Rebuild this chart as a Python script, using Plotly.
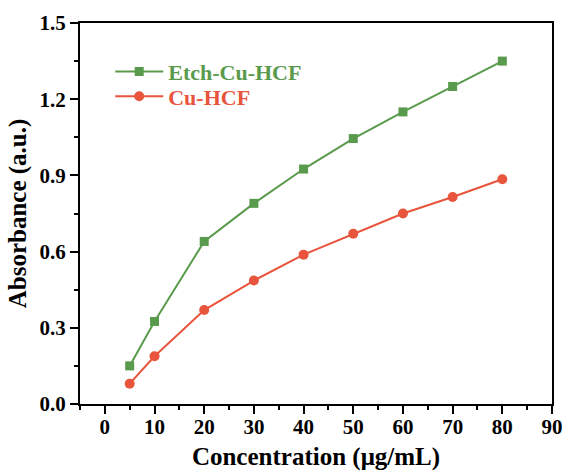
import plotly.graph_objects as go

conc = [5, 10, 20, 30, 40, 50, 60, 70, 80]
etch_cu_hcf = [0.15, 0.325, 0.64, 0.79, 0.925, 1.045, 1.15, 1.25, 1.35]
cu_hcf = [0.08, 0.188, 0.37, 0.486, 0.588, 0.67, 0.75, 0.815, 0.885]

x_ticks = [0, 10, 20, 30, 40, 50, 60, 70, 80, 90]
y_ticks = [0.0, 0.3, 0.6, 0.9, 1.2, 1.5]
y_ticktext = ["0.0", "0.3", "0.6", "0.9", "1.2", "1.5"]

green = "#5a9a4c"
red = "#e8543c"
font_family = "Liberation Serif, Times New Roman, serif"

fig = go.Figure()
fig.add_trace(go.Scatter(
    x=conc, y=etch_cu_hcf, mode="lines+markers",
    name=f"<span style='color:{green}'><b>Etch-Cu-HCF</b></span>",
    line=dict(color=green, width=2),
    marker=dict(symbol="square", size=9, color=green),
    legend="legend", showlegend=True,
))
fig.add_trace(go.Scatter(
    x=conc, y=cu_hcf, mode="lines+markers",
    name=f"<span style='color:{red}'><b>Cu-HCF</b></span>",
    line=dict(color=red, width=2),
    marker=dict(symbol="circle", size=10, color=red),
    legend="legend2", showlegend=True,
))

axis_common = dict(
    showline=True, linecolor="black", linewidth=2, mirror=True,
    ticks="outside", ticklen=8, tickwidth=2, tickcolor="black",
    showgrid=False, zeroline=False, automargin=False,
    tickfont=dict(family=font_family, size=21, color="black", weight="bold"),
)

legend_common = dict(
    x=0.064, xanchor="left", yanchor="middle",
    bgcolor="rgba(0,0,0,0)", borderwidth=0,
    font=dict(family=font_family, size=22),
    itemwidth=48,
)

fig.update_layout(
    width=565, height=471,
    margin=dict(l=80, r=13, t=23, b=67),
    paper_bgcolor="white", plot_bgcolor="white",
    font=dict(family=font_family, color="black"),
    showlegend=True,
    xaxis=dict(
        **axis_common,
        range=[-5, 90], tickvals=x_ticks,
        ticklabelstandoff=-5,
        minor=dict(ticks="outside", ticklen=4, tickwidth=2, tickcolor="black", dtick=5, tick0=-5),
        title=dict(text="<b>Concentration (μg/mL)</b>", font=dict(family=font_family, size=25, color="black"), standoff=9),
    ),
    yaxis=dict(
        **axis_common,
        range=[0, 1.5], tickvals=y_ticks, ticktext=y_ticktext,
        minor=dict(ticks="outside", ticklen=4, tickwidth=2, tickcolor="black", dtick=0.15, tick0=0),
        title=dict(text="<b>Absorbance (a.u.)</b>", font=dict(family=font_family, size=25, color="black"), standoff=6),
    ),
    legend=dict(**legend_common, y=0.872),
    legend2=dict(**legend_common, y=0.807),
)

fig.write_html("out.html")
